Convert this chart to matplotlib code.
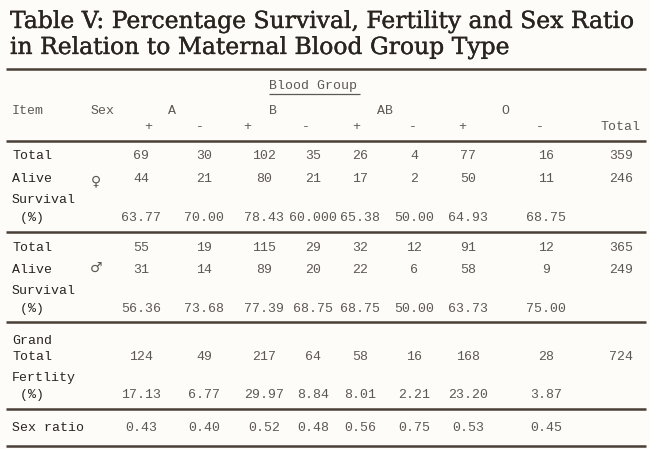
import matplotlib.pyplot as plt
import matplotlib.patheffects as pe

# table content
title_lines = ["Table V: Percentage Survival, Fertility and Sex Ratio",
               "in Relation to Maternal Blood Group Type"]
groups = ["A", "B", "AB", "O"]
signs = ["+", "-", "+", "-", "+", "-", "+", "-"]

female_total = ["69", "30", "102", "35", "26", "4", "77", "16", "359"]
female_alive = ["44", "21", "80", "21", "17", "2", "50", "11", "246"]
female_surv = ["63.77", "70.00", "78.43", "60.000", "65.38", "50.00", "64.93", "68.75"]
male_total = ["55", "19", "115", "29", "32", "12", "91", "12", "365"]
male_alive = ["31", "14", "89", "20", "22", "6", "58", "9", "249"]
male_surv = ["56.36", "73.68", "77.39", "68.75", "68.75", "50.00", "63.73", "75.00"]
grand_total = ["124", "49", "217", "64", "58", "16", "168", "28", "724"]
fertility = ["17.13", "6.77", "29.97", "8.84", "8.01", "2.21", "23.20", "3.87"]
sex_ratio = ["0.43", "0.40", "0.52", "0.48", "0.56", "0.75", "0.53", "0.45"]

# layout in pixel units of the 650x449 page
col_x = [141, 204, 264, 313, 360, 414, 468, 546, 621]
group_x = [172, 273, 385, 505]
sign_x = [148, 200, 247, 306, 356, 413, 462, 540]

ink = "#2a241f"
type_ink = "#5e5852"
rule_col = "#4a3f36"
mono = "Liberation Mono"

fig = plt.figure(figsize=(6.5, 4.49), dpi=100)
fig.patch.set_facecolor("#fdfcf8")
ax = fig.add_axes([0, 0, 1, 1])
ax.set_xlim(0, 650)
ax.set_ylim(449, 0)
ax.axis("off")

thick = [pe.withStroke(linewidth=0.25, foreground=ink)]
ax.text(10, 28, title_lines[0], fontsize=16.9, family="DejaVu Serif",
        color=ink, va="baseline", ha="left", path_effects=thick)
ax.text(10, 54, title_lines[1], fontsize=16.9, family="DejaVu Serif",
        color=ink, va="baseline", ha="left", path_effects=thick)

for y in [69, 141, 232, 322, 409, 446]:
    ax.hlines(y, 6, 646, color=rule_col, lw=1.8)

def tt(x, y, s, ha="left", color=type_ink):
    ax.text(x, y, s, fontsize=9.5, family=mono, color=color, ha=ha, va="center")

tt(269, 86, "Blood Group")
ax.hlines(94, 269, 360, color=type_ink, lw=0.9)

tt(12, 111, "Item")
tt(91, 111, "Sex")
for g, x in zip(groups, group_x):
    tt(x, 111, g, ha="center")
for s, x in zip(signs, sign_x):
    tt(x, 127, s, ha="center")
tt(640, 127, "Total", ha="right")

def row(y, label, vals):
    tt(12, y, label, color=ink)
    for v, x in zip(vals, col_x):
        tt(x, y, v, ha="center")

row(156, "Total", female_total)
row(179, "Alive", female_alive)
tt(12, 200, "Survival", color=ink)
row(218, " (%)", female_surv)
ax.text(96, 181, "\u2640", fontsize=10, family="DejaVu Sans", color=type_ink,
        ha="center", va="center")

row(248, "Total", male_total)
row(270, "Alive", male_alive)
tt(12, 291, "Survival", color=ink)
row(309, " (%)", male_surv)
ax.text(96, 268, "\u2642", fontsize=10, family="DejaVu Sans", color=type_ink,
        ha="center", va="center")

tt(12, 341, "Grand", color=ink)
row(357, "Total", grand_total)
tt(12, 378, "Fertlity", color=ink)
row(395, " (%)", fertility)
row(428, "Sex ratio", sex_ratio)

fig.savefig("out.png", dpi=100, facecolor=fig.get_facecolor())
